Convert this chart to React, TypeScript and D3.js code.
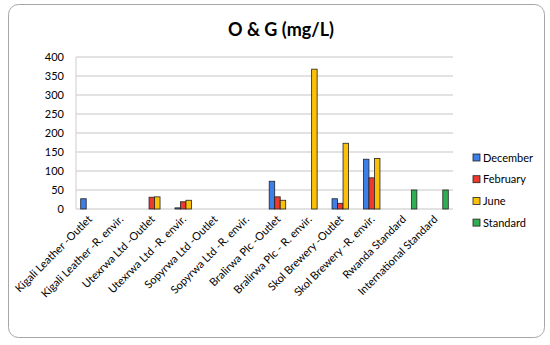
import React from 'react';
import * as d3 from 'd3';

const categories = [
  'Kigali Leather -Outlet',
  'Kigali Leather -R. envir.',
  'Utexrwa Ltd -Outlet',
  'Utexrwa Ltd -R. envir.',
  'Sopyrwa Ltd -Outlet',
  'Sopyrwa Ltd -R. envir.',
  'Bralirwa Plc -Outlet',
  'Bralirwa Plc - R. envir.',
  'Skol Brewery -Outlet',
  'Skol Brewery -R. envir.',
  'Rwanda Standard',
  'International Standard',
];
const seriesNames = ['December', 'February', 'June', 'Standard'];
const december = [27, 0, 0, 3, 0, 0, 73, 0, 27, 131, 0, 0];
const february = [0, 0, 31, 19, 0, 0, 32, 0, 15, 82, 0, 0];
const june = [0, 0, 32, 23, 0, 0, 23, 368, 173, 133, 0, 0];
const standard = [0, 0, 0, 0, 0, 0, 0, 0, 0, 0, 50, 50];
const yTicks = [0, 50, 100, 150, 200, 250, 300, 350, 400];
const colors = ['#3d7fe6', '#ee3a2e', '#fbc008', '#2fae52'];

export default function App() {
  const W = 550, H = 345;
  const left = 76, right = 453, top = 57, bottom = 209;
  const values = [december, february, june, standard];

  const x = d3.scaleBand<string>().domain(categories).range([left, right]).padding(0);
  const inner = d3.scaleBand<string>().domain(seriesNames).range([0, 22]);
  const y = d3.scaleLinear().domain([0, 400]).range([bottom, top]);
  const font = 'Lato, "Open Sans", sans-serif';

  return (
    <svg width={W} height={H} style={{ position: 'absolute', left: 0, top: 0, background: '#fff' }} fontFamily={font}>
      <rect x={8.5} y={4.5} width={536} height={333} rx={10} fill="#fff" stroke="#a6a6a6" />
      <text x={281} y={36} textAnchor="middle" fontSize={18} fontWeight="bold" fill="#000">O &amp; G (mg/L)</text>
      {yTicks.map(t => (
        <g key={t}>
          <line x1={left} x2={right} y1={y(t)} y2={y(t)} stroke="#d9d9d9" strokeWidth={1.3} />
          <text x={64} y={y(t) + 4} textAnchor="end" fontSize={11} fill="#000">{t}</text>
        </g>
      ))}
      <line x1={left} x2={left} y1={top} y2={bottom} stroke="#d9d9d9" strokeWidth={1.3} />
      {categories.map((c, ci) => {
        const start = x(c)! + x.bandwidth() / 2 - 11;
        return (
          <g key={c}>
            {seriesNames.map((s, si) => {
              const v = values[si][ci];
              if (!v) return null;
              return (
                <rect key={s} x={start + inner(s)!} y={y(v)} width={inner.bandwidth()} height={bottom - y(v)}
                  fill={colors[si]} stroke="#222" strokeWidth={0.8} />
              );
            })}
            <text transform={`translate(${x(c)! + x.bandwidth() / 2 + 1},${bottom + 11}) rotate(-45)`}
              textAnchor="end" fontSize={11} fill="#000">{c}</text>
          </g>
        );
      })}
      {seriesNames.map((s, si) => (
        <g key={s} transform={`translate(473,${158 + si * 21.7})`}>
          <rect x={0} y={-4} width={7} height={7} fill={colors[si]} stroke="#222" strokeWidth={0.8} />
          <text x={10} y={3.5} fontSize={11} fill="#000">{s}</text>
        </g>
      ))}
    </svg>
  );
}
